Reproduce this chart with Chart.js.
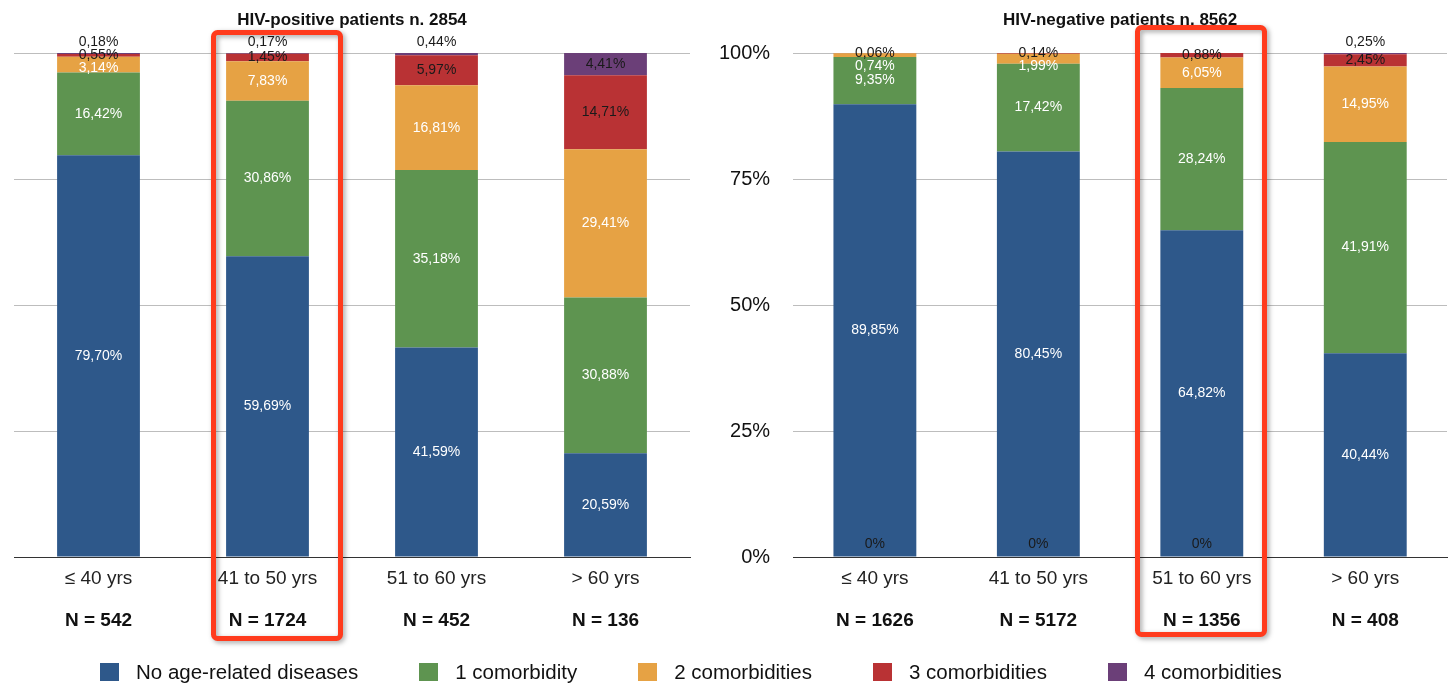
<!DOCTYPE html>
<html>
<head>
<meta charset="utf-8">
<title>Age-related comorbidities by HIV status</title>
<script src="https://cdn.jsdelivr.net/npm/chart.js@4.4.1/dist/chart.umd.min.js"></script>
<style>
  body { margin: 0; background: #fff; font-family: "Liberation Sans", Arial, sans-serif; }
  #wrap { position: relative; width: 1450px; height: 693px; overflow: hidden; }
  #chartPos { position: absolute; left: 0; top: 0; }
  #chartNeg { position: absolute; left: 690px; top: 0; }
  #legend { position: absolute; left: 100px; top: 660px; display: flex; align-items: center; font-size: 20.5px; color: #111; white-space: nowrap; }
  .item { display: flex; align-items: center; margin-right: 61px; }
  .sw { width: 19px; height: 18px; margin-right: 17px; }
</style>
</head>
<body>
<div id="wrap">
  <canvas id="chartPos" width="700" height="693"></canvas>
  <canvas id="chartNeg" width="760" height="693"></canvas>
  <div id="legend"></div>
</div>
<script>
const ageGroups = ["≤ 40 yrs", "41 to 50 yrs", "51 to 60 yrs", "> 60 yrs"];
const seriesNames = ["No age-related diseases", "1 comorbidity", "2 comorbidities", "3 comorbidities", "4 comorbidities"];
const yTicks = [0, 25, 50, 75, 100];

const posTitle = "HIV-positive patients n. 2854";
const posN = ["N = 542", "N = 1724", "N = 452", "N = 136"];
const posNone = [79.70, 59.69, 41.59, 20.59];
const posOne = [16.42, 30.86, 35.18, 30.88];
const posTwo = [3.14, 7.83, 16.81, 29.41];
const posThree = [0.55, 1.45, 5.97, 14.71];
const posFour = [0.18, 0.17, 0.44, 4.41];

const negTitle = "HIV-negative patients n. 8562";
const negN = ["N = 1626", "N = 5172", "N = 1356", "N = 408"];
const negNone = [89.85, 80.45, 64.82, 40.44];
const negOne = [9.35, 17.42, 28.24, 41.91];
const negTwo = [0.74, 1.99, 6.05, 14.95];
const negThree = [0.06, 0.14, 0.88, 2.45];
const negFour = [0, 0, 0, 0.25];

const FONT = '"Liberation Sans", Arial, sans-serif';
const colors = ["#2e588a", "#5e9450", "#e6a244", "#b93234", "#6b3f78"];

const labelPlugin = {
  id: "segLabels",
  afterDatasetsDraw(chart) {
    const ctx = chart.ctx;
    const zeroY = chart.scales.y.getPixelForValue(0);
    ctx.save();
    ctx.font = "14px " + FONT;
    ctx.textAlign = "center";
    ctx.textBaseline = "middle";
    chart.data.labels.forEach((_, i) => {
      let prev = null;
      for (let d = chart.data.datasets.length - 1; d >= 0; d--) {
        const v = chart.data.datasets[d].data[i];
        const el = chart.getDatasetMeta(d).data[i];
        const text = v === 0 ? "0%" : v.toFixed(2).replace(".", ",") + "%";
        let color = d <= 2 ? "#fff" : "#1a1a1a";
        let y;
        if (v === 0) {
          y = zeroY - 13;
          color = "#1a1a1a";
        } else if (d === 4 && v < 1) {
          y = el.y - 11;
          prev = y;
        } else {
          const c = (el.y + el.base) / 2;
          y = prev === null ? c : Math.max(c, prev + 13);
          prev = y;
        }
        ctx.fillStyle = color;
        ctx.fillText(text, el.x, y);
      }
    });
    ctx.restore();
  }
};

const highlightPlugin = {
  id: "highlight",
  afterDraw(chart, args, opts) {
    const ctx = chart.ctx;
    ctx.save();
    ctx.strokeStyle = "#ff3b1d";
    ctx.lineWidth = 5;
    ctx.shadowColor = "rgba(0,0,0,0.35)";
    ctx.shadowBlur = 5;
    ctx.shadowOffsetX = 2;
    ctx.shadowOffsetY = 2;
    ctx.beginPath();
    ctx.roundRect(opts.x + 2.5, opts.y + 2.5, opts.w - 5, opts.h - 5, 4);
    ctx.stroke();
    ctx.restore();
  }
};

function makeChart(id, title, nLabels, series, opts) {
  return new Chart(document.getElementById(id), {
    type: "bar",
    data: {
      labels: ageGroups,
      datasets: series.map((data, i) => ({
        label: seriesNames[i],
        data,
        backgroundColor: colors[i],
        borderWidth: 0,
        barPercentage: opts.barPct,
        categoryPercentage: 1
      }))
    },
    options: {
      responsive: false,
      animation: false,
      layout: { padding: { left: opts.padLeft, right: opts.padRight, top: 0, bottom: 52 } },
      plugins: {
        legend: { display: false },
        tooltip: { enabled: false },
        title: {
          display: true, text: title, color: "#111", fullSize: false,
          font: { size: 17, weight: "bold", family: FONT },
          padding: { top: 10, bottom: 22.6 }
        },
        highlight: opts.box
      },
      scales: {
        x: {
          stacked: true, offset: true,
          grid: { display: false, drawTicks: false },
          border: { display: true, color: "#333", width: 1 },
          ticks: { color: "#222", font: { size: 19, family: FONT }, padding: 10.6, autoSkip: false, maxRotation: 0 }
        },
        xN: {
          type: "category", position: "bottom", labels: nLabels, offset: true, weight: 1,
          grid: { display: false, drawTicks: false },
          border: { display: false },
          ticks: { color: "#111", font: { size: 19, weight: "bold", family: FONT }, padding: 8.6, autoSkip: false, maxRotation: 0 }
        },
        y: {
          stacked: true, min: 0, max: 100,
          afterBuildTicks: s => { s.ticks = yTicks.map(v => ({ value: v })); },
          grid: { color: c => c.tick.value === 0 ? "#333" : "#bdbdbd", drawTicks: false },
          border: { display: false },
          ticks: { display: opts.showY, padding: 23, color: "#111", font: { size: 20, family: FONT }, callback: v => v + "%" }
        }
      }
    },
    plugins: [labelPlugin, highlightPlugin]
  });
}

makeChart("chartPos", posTitle, posN, [posNone, posOne, posTwo, posThree, posFour],
  { barPct: 0.49, padLeft: 14, padRight: 10, showY: false, box: { x: 211, y: 30, w: 132, h: 611 } });

makeChart("chartNeg", negTitle, negN, [negNone, negOne, negTwo, negThree, negFour],
  { barPct: 0.507, padLeft: 6, padRight: 3, showY: true, box: { x: 445, y: 25, w: 132, h: 612 } });

const legend = document.getElementById("legend");
seriesNames.forEach((name, i) => {
  legend.innerHTML += `<div class="item"><div class="sw" style="background:${colors[i]}"></div><span>${name}</span></div>`;
});
</script>
</body>
</html>
